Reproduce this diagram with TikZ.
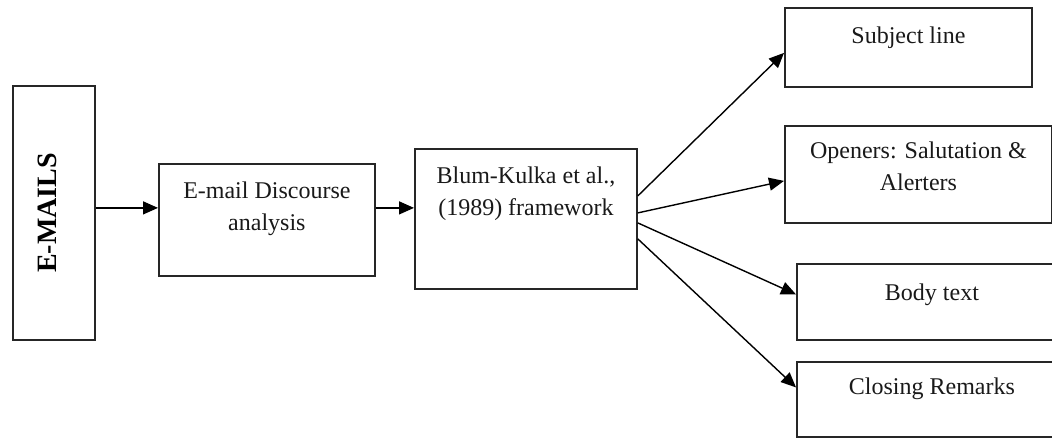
\documentclass[tikz,border=0pt]{standalone}
\usepackage{fontspec}
\setmainfont{Liberation Serif}
\usetikzlibrary{arrows.meta, positioning}

\begin{document}
\begin{tikzpicture}[
  x=0.5pt, y=-0.5pt,
  box/.style={rectangle, draw=black!85, line width=0.9pt, anchor=north west,
              inner sep=0pt},
  tag/.style={font=\fontsize{12}{16}\selectfont, align=center, inner sep=0pt,
              anchor=north, text=black!90},
  title/.style={font=\fontsize{14}{16}\selectfont\bfseries, rotate=90,
                inner sep=0pt},
  arr/.style={-{Triangle[length=7.5pt, width=6.5pt]}, line width=0.7pt},
]
  \clip (0,0) rectangle (1052,438);

  % left part
  \node[box, minimum width=41pt, minimum height=127pt] (emails) at (12,85) {};
  \node[title] (emailsT) at ([xshift=-3.5pt]emails.center) {E-MAILS};
  \node[box, minimum width=108pt, minimum height=56pt] (disc) at (158,163) {};
  \node[tag, below=9pt of disc.north] (discT) {E-mail Discourse\\analysis};
  \node[box, minimum width=111pt, minimum height=70pt] (blum) at (414,148) {};
  \node[tag, below=9pt of blum.north] (blumT) {Blum-Kulka et al.,\\(1989) framework};

  % right part
  \node[box, minimum width=123.5pt, minimum height=39.5pt] (subj) at (784,7) {};
  \node[tag, below=9.5pt of subj.north] (subjT) {Subject line};
  \node[box, minimum width=133.5pt, minimum height=48.5pt] (open) at (784,125) {};
  \node[tag, below=8pt of open.north] (openT) {Openers: Salutation \&\\Alerters};
  \node[box, minimum width=135pt, minimum height=38pt] (body) at (796,263) {};
  \node[tag, below=10pt of body.north] (bodyT) {Body text};
  \node[box, minimum width=135pt, minimum height=37.5pt] (close) at (796,361) {};
  \node[tag, below=8pt of close.north] (closeT) {Closing Remarks};

  \draw[arr] ([yshift=2.5pt]emails.east) -- ([yshift=2.5pt]emails.east -| disc.west);
  \draw[arr] ([yshift=6pt]disc.east) -- ([yshift=6pt]disc.east -| blum.west);

  \draw[arr] ([yshift=11.5pt]blum.east) -- ([yshift=-2.75pt]subj.west);
  \draw[arr] ([yshift=3pt]blum.east) -- ([yshift=-3.25pt]open.west);
  \draw[arr] ([yshift=-2pt]blum.east) -- ([yshift=3.75pt]body.west);
  \draw[arr] ([yshift=-10pt]blum.east) -- ([yshift=6pt]close.west);
\end{tikzpicture}
\end{document}
